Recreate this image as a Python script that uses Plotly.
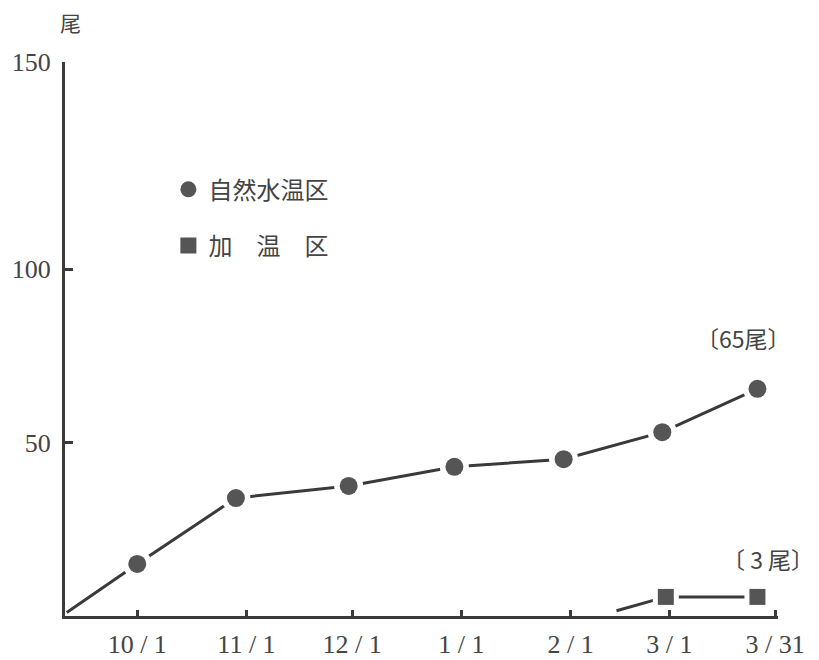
import plotly.graph_objects as go

# --- data ---
nat_dates = ["1985-09-11", "1985-10-01", "1985-10-29", "1985-11-30",
             "1985-12-30", "1986-01-30", "1986-02-27", "1986-03-26"]
nat_vals = [1, 15, 34, 37.5, 43, 45.2, 53, 65.5]
nat_marker_idx = [1, 2, 3, 4, 5, 6, 7]   # the first point is the line start only

heat_dates = ["1986-02-14", "1986-02-28", "1986-03-26"]
heat_vals = [1.5, 5.5, 5.5]
heat_marker_idx = [1, 2]

x_tick_dates = ["1985-10-01", "1985-11-01", "1985-12-01", "1986-01-01",
                "1986-02-01", "1986-03-01", "1986-03-31"]
x_tick_text = ["10 / 1", "11 / 1", "12 / 1", "1 / 1", "2 / 1", "3 / 1", "3 / 31"]
y_tick_vals = [50, 100, 159.7]
y_tick_text = ["50", "100", "150"]

name_nat = "自然水温区"
name_heat = "加　温　区"

INK = "#3a3a3a"
TXT = "#444444"
MARK = "#555555"
SERIF = "Liberation Serif, DejaVu Serif, serif"
CJK = "Noto Sans CJK JP, Noto Sans CJK SC, sans-serif"

fig = go.Figure()

# lines
fig.add_trace(go.Scatter(x=nat_dates, y=nat_vals, mode="lines",
                         line=dict(color=INK, width=3), showlegend=False,
                         hoverinfo="skip"))
fig.add_trace(go.Scatter(x=heat_dates, y=heat_vals, mode="lines",
                         line=dict(color=INK, width=3), showlegend=False,
                         hoverinfo="skip"))

# white rings that open a gap between the line and each marker
fig.add_trace(go.Scatter(
    x=[nat_dates[i] for i in nat_marker_idx],
    y=[nat_vals[i] for i in nat_marker_idx],
    mode="markers", showlegend=False, hoverinfo="skip",
    marker=dict(symbol="circle", size=29, color="white")))
fig.add_trace(go.Scatter(
    x=[heat_dates[i] for i in heat_marker_idx],
    y=[heat_vals[i] for i in heat_marker_idx],
    mode="markers", showlegend=False, hoverinfo="skip",
    marker=dict(symbol="square", size=26, color="white")))

# markers
fig.add_trace(go.Scatter(
    x=[nat_dates[i] for i in nat_marker_idx],
    y=[nat_vals[i] for i in nat_marker_idx],
    mode="markers", name=name_nat, legendgroup="a",
    marker=dict(symbol="circle", size=18, color=MARK)))
fig.add_trace(go.Scatter(
    x=[heat_dates[i] for i in heat_marker_idx],
    y=[heat_vals[i] for i in heat_marker_idx],
    mode="markers", name=name_heat, legendgroup="b",
    marker=dict(symbol="square", size=16, color=MARK)))

fig.add_annotation(x="1986-03-21 22:00", y=80.1, text="〔65尾〕", showarrow=False,
                   xanchor="center", yanchor="middle",
                   font=dict(family=CJK, size=23, color=TXT))
fig.add_annotation(x="1986-03-29", y=16.4, text="〔 3 尾〕", showarrow=False,
                   xanchor="center", yanchor="middle",
                   font=dict(family=CJK, size=23, color=TXT))
fig.add_annotation(xref="paper", yref="paper", x=0.0084, y=1.0722, text="尾",
                   showarrow=False, xanchor="center", yanchor="middle",
                   font=dict(family=CJK, size=21, color=TXT))

fig.update_layout(
    width=811, height=652,
    margin=dict(l=57, r=41, t=54, b=44),
    paper_bgcolor="white", plot_bgcolor="white",
    legend=dict(x=0.145, y=0.81, xanchor="left", yanchor="top",
                font=dict(family=CJK, size=24, color=TXT),
                tracegroupgap=22, traceorder="grouped",
                bgcolor="rgba(0,0,0,0)", itemsizing="trace", itemwidth=30),
    xaxis=dict(type="date", range=["1985-09-10 12:00", "1986-03-31 20:00"],
               tickvals=x_tick_dates, ticktext=x_tick_text,
               ticks="inside", ticklen=6, tickwidth=3, tickcolor=INK,
               showline=True, linecolor=INK, linewidth=3, showgrid=False,
               zeroline=False, tickfont=dict(family=SERIF, size=26, color=TXT),
               ticklabelstandoff=3, automargin=False),
    yaxis=dict(range=[0, 159.7], tickvals=y_tick_vals, ticktext=y_tick_text,
               ticks="inside", ticklen=8, tickwidth=3, tickcolor=INK,
               showline=True, linecolor=INK, linewidth=3, showgrid=False,
               zeroline=False, tickfont=dict(family=SERIF, size=26, color=TXT),
               ticklabelstandoff=6, automargin=False),
)

fig.write_html("out.html")
